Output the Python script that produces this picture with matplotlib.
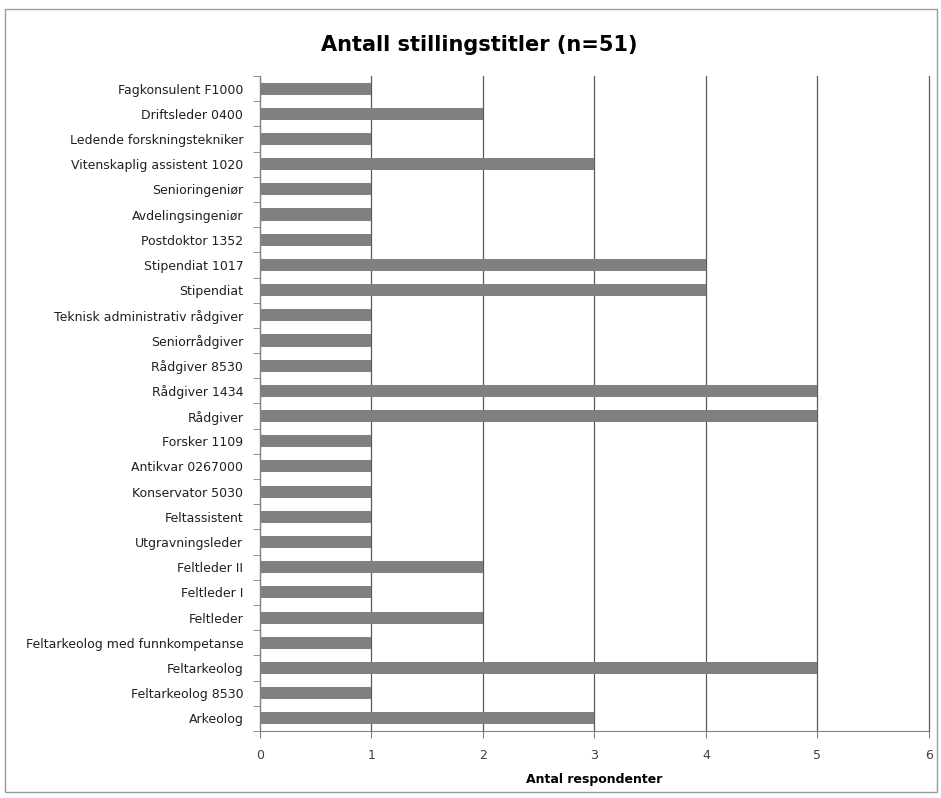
import numpy as np
import matplotlib.pyplot as plt
from matplotlib.patches import Rectangle

# Categories listed top to bottom
titles = [
    "Fagkonsulent F1000", "Driftsleder 0400", "Ledende forskningstekniker",
    "Vitenskaplig assistent 1020", "Senioringeniør", "Avdelingsingeniør",
    "Postdoktor 1352", "Stipendiat 1017", "Stipendiat",
    "Teknisk administrativ rådgiver", "Seniorrådgiver", "Rådgiver 8530",
    "Rådgiver 1434", "Rådgiver", "Forsker 1109", "Antikvar 0267000",
    "Konservator 5030", "Feltassistent", "Utgravningsleder", "Feltleder II",
    "Feltleder I", "Feltleder", "Feltarkeolog med funnkompetanse",
    "Feltarkeolog", "Feltarkeolog 8530", "Arkeolog",
]
counts = [1, 2, 1, 3, 1, 1, 1, 4, 4, 1, 1, 1, 5, 5, 1, 1, 1, 1, 1, 2, 1, 2, 1, 5, 1, 3]
xticks = [0, 1, 2, 3, 4, 5, 6]

fig = plt.figure(figsize=(9.41, 7.98), dpi=100)
ax = fig.add_axes([0.2763, 0.084, 0.7107, 0.8208])

# outer chart frame
fig.patches.append(Rectangle((5 / 941, 6 / 798), 932 / 941, 783 / 798,
                             transform=fig.transFigure, fill=False,
                             edgecolor="#9a9a9a", linewidth=1))

n = len(titles)
y = np.arange(n)[::-1]
ax.barh(y, counts, height=0.48, color="#808080", zorder=3)

ax.set_xlim(0, 6)
ax.set_ylim(-0.5, n - 0.5)
ax.set_xticks(xticks)
ax.set_xticklabels([str(t) for t in xticks], fontsize=9, color="#404040")
ax.set_yticks(y)
ax.set_yticklabels(titles, fontsize=9, color="#202020")
ax.set_yticks(np.arange(n + 1) - 0.5, minor=True)
ax.tick_params(axis="y", which="major", length=0, pad=12)
ax.tick_params(axis="y", which="minor", length=5, direction="out", color="#808080")
ax.tick_params(axis="x", length=5, direction="out", color="#808080", pad=8)

ax.grid(axis="x", color="#5a5a5a", linewidth=0.9, zorder=1)
for gl in ax.get_xgridlines():
    gl.set_clip_on(False)
for s in ["top", "right"]:
    ax.spines[s].set_visible(False)
for s in ["left", "bottom"]:
    ax.spines[s].set_color("#808080")

ax.set_xlabel("Antal respondenter", fontsize=9, fontweight="bold", labelpad=8)
fig.text(0.509, 0.943, "Antall stillingstitler (n=51)", ha="center",
         va="center", fontsize=15, fontweight="bold")

plt.savefig("out.png", dpi=100)
